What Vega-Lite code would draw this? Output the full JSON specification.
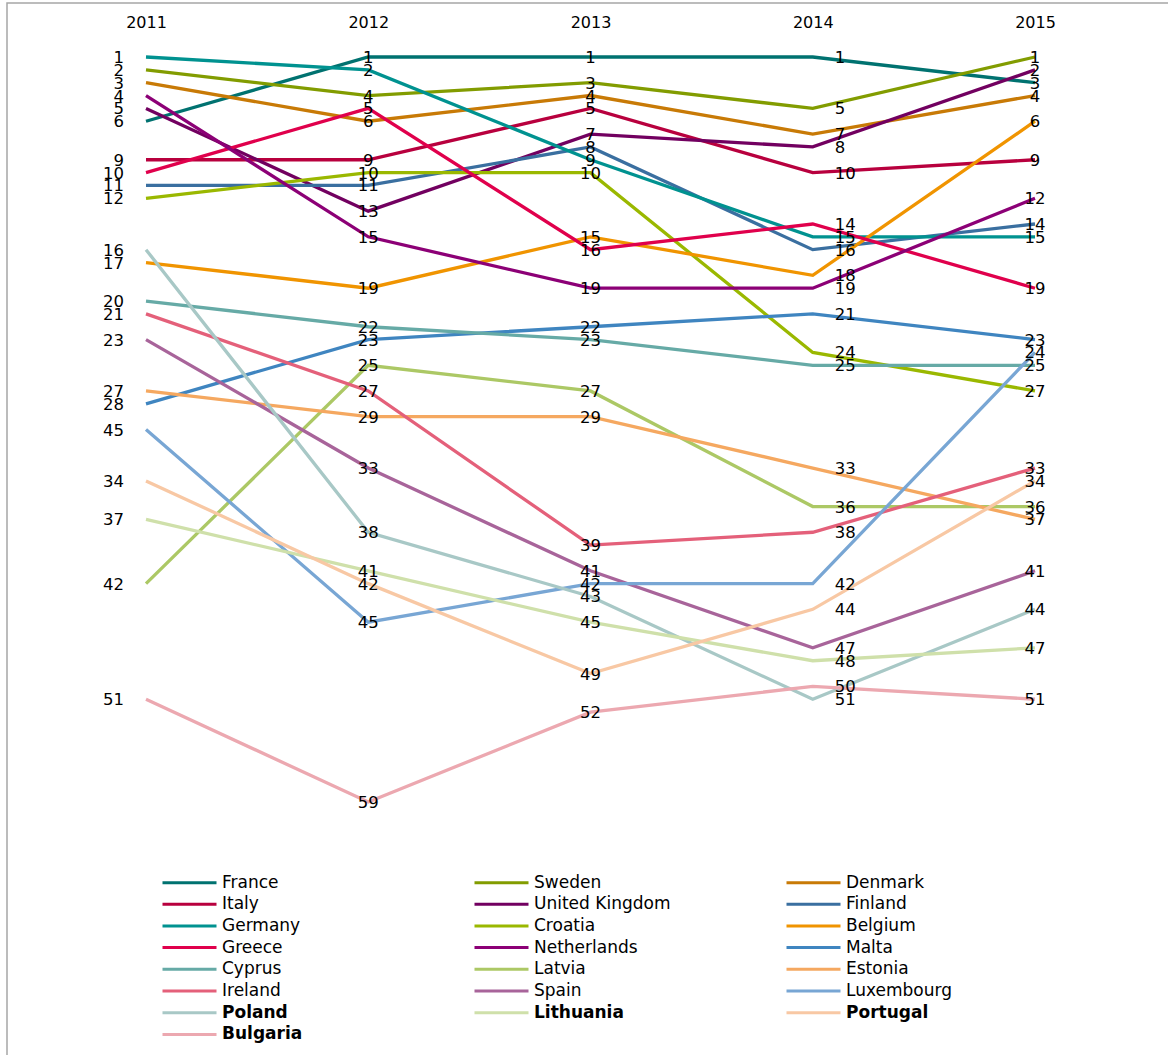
{
  "$schema": "https://vega.github.io/schema/vega-lite/v6.json",
  "width": 1170,
  "height": 1060,
  "autosize": {"type": "none"},
  "padding": {"left": 7, "top": 3, "right": 0, "bottom": 0},
  "background": "white",
  "config": {
    "view": {"stroke": "#a6a6a6", "strokeWidth": 1.5},
    "font": "DejaVu Sans"
  },
  "data": {
    "values": [
      {"country": "France", "year": 2011, "rank": 6, "label": 6},
      {"country": "France", "year": 2012, "rank": 1, "label": 1},
      {"country": "France", "year": 2013, "rank": 1, "label": 1},
      {"country": "France", "year": 2014, "rank": 1, "label": 1},
      {"country": "France", "year": 2015, "rank": 3, "label": 3},
      {"country": "Sweden", "year": 2011, "rank": 2, "label": 2},
      {"country": "Sweden", "year": 2012, "rank": 4, "label": 4},
      {"country": "Sweden", "year": 2013, "rank": 3, "label": 3},
      {"country": "Sweden", "year": 2014, "rank": 5, "label": 5},
      {"country": "Sweden", "year": 2015, "rank": 1, "label": 1},
      {"country": "Denmark", "year": 2011, "rank": 3, "label": 3},
      {"country": "Denmark", "year": 2012, "rank": 6, "label": 6},
      {"country": "Denmark", "year": 2013, "rank": 4, "label": 4},
      {"country": "Denmark", "year": 2014, "rank": 7, "label": 7},
      {"country": "Denmark", "year": 2015, "rank": 4, "label": 4},
      {"country": "Italy", "year": 2011, "rank": 9, "label": 9},
      {"country": "Italy", "year": 2012, "rank": 9, "label": 9},
      {"country": "Italy", "year": 2013, "rank": 5, "label": 5},
      {"country": "Italy", "year": 2014, "rank": 10, "label": 10},
      {"country": "Italy", "year": 2015, "rank": 9, "label": 9},
      {"country": "United Kingdom", "year": 2011, "rank": 5, "label": 5},
      {"country": "United Kingdom", "year": 2012, "rank": 13, "label": 13},
      {"country": "United Kingdom", "year": 2013, "rank": 7, "label": 7},
      {"country": "United Kingdom", "year": 2014, "rank": 8, "label": 8},
      {"country": "United Kingdom", "year": 2015, "rank": 2, "label": 2},
      {"country": "Finland", "year": 2011, "rank": 11, "label": 11},
      {"country": "Finland", "year": 2012, "rank": 11, "label": 11},
      {"country": "Finland", "year": 2013, "rank": 8, "label": 8},
      {"country": "Finland", "year": 2014, "rank": 16, "label": 16},
      {"country": "Finland", "year": 2015, "rank": 14, "label": 14},
      {"country": "Germany", "year": 2011, "rank": 1, "label": 1},
      {"country": "Germany", "year": 2012, "rank": 2, "label": 2},
      {"country": "Germany", "year": 2013, "rank": 9, "label": 9},
      {"country": "Germany", "year": 2014, "rank": 15, "label": 15},
      {"country": "Germany", "year": 2015, "rank": 15, "label": 15},
      {"country": "Croatia", "year": 2011, "rank": 12, "label": 12},
      {"country": "Croatia", "year": 2012, "rank": 10, "label": 10},
      {"country": "Croatia", "year": 2013, "rank": 10, "label": 10},
      {"country": "Croatia", "year": 2014, "rank": 24, "label": 24},
      {"country": "Croatia", "year": 2015, "rank": 27, "label": 27},
      {"country": "Belgium", "year": 2011, "rank": 17, "label": 17},
      {"country": "Belgium", "year": 2012, "rank": 19, "label": 19},
      {"country": "Belgium", "year": 2013, "rank": 15, "label": 15},
      {"country": "Belgium", "year": 2014, "rank": 18, "label": 18},
      {"country": "Belgium", "year": 2015, "rank": 6, "label": 6},
      {"country": "Greece", "year": 2011, "rank": 10, "label": 10},
      {"country": "Greece", "year": 2012, "rank": 5, "label": 5},
      {"country": "Greece", "year": 2013, "rank": 16, "label": 16},
      {"country": "Greece", "year": 2014, "rank": 14, "label": 14},
      {"country": "Greece", "year": 2015, "rank": 19, "label": 19},
      {"country": "Netherlands", "year": 2011, "rank": 4, "label": 4},
      {"country": "Netherlands", "year": 2012, "rank": 15, "label": 15},
      {"country": "Netherlands", "year": 2013, "rank": 19, "label": 19},
      {"country": "Netherlands", "year": 2014, "rank": 19, "label": 19},
      {"country": "Netherlands", "year": 2015, "rank": 12, "label": 12},
      {"country": "Malta", "year": 2011, "rank": 28, "label": 28},
      {"country": "Malta", "year": 2012, "rank": 23, "label": 23},
      {"country": "Malta", "year": 2013, "rank": 22, "label": 22},
      {"country": "Malta", "year": 2014, "rank": 21, "label": 21},
      {"country": "Malta", "year": 2015, "rank": 23, "label": 23},
      {"country": "Cyprus", "year": 2011, "rank": 20, "label": 20},
      {"country": "Cyprus", "year": 2012, "rank": 22, "label": 22},
      {"country": "Cyprus", "year": 2013, "rank": 23, "label": 23},
      {"country": "Cyprus", "year": 2014, "rank": 25, "label": 25},
      {"country": "Cyprus", "year": 2015, "rank": 25, "label": 25},
      {"country": "Latvia", "year": 2011, "rank": 42, "label": 42},
      {"country": "Latvia", "year": 2012, "rank": 25, "label": 25},
      {"country": "Latvia", "year": 2013, "rank": 27, "label": 27},
      {"country": "Latvia", "year": 2014, "rank": 36, "label": 36},
      {"country": "Latvia", "year": 2015, "rank": 36, "label": 36},
      {"country": "Estonia", "year": 2011, "rank": 27, "label": 27},
      {"country": "Estonia", "year": 2012, "rank": 29, "label": 29},
      {"country": "Estonia", "year": 2013, "rank": 29, "label": 29},
      {"country": "Estonia", "year": 2014, "rank": 33, "label": 33},
      {"country": "Estonia", "year": 2015, "rank": 37, "label": 37},
      {"country": "Ireland", "year": 2011, "rank": 21, "label": 21},
      {"country": "Ireland", "year": 2012, "rank": 27, "label": 27},
      {"country": "Ireland", "year": 2013, "rank": 39, "label": 39},
      {"country": "Ireland", "year": 2014, "rank": 38, "label": 38},
      {"country": "Ireland", "year": 2015, "rank": 33, "label": 33},
      {"country": "Spain", "year": 2011, "rank": 23, "label": 23},
      {"country": "Spain", "year": 2012, "rank": 33, "label": 33},
      {"country": "Spain", "year": 2013, "rank": 41, "label": 41},
      {"country": "Spain", "year": 2014, "rank": 47, "label": 47},
      {"country": "Spain", "year": 2015, "rank": 41, "label": 41},
      {"country": "Luxembourg", "year": 2011, "rank": 30, "label": 45},
      {"country": "Luxembourg", "year": 2012, "rank": 45, "label": 45},
      {"country": "Luxembourg", "year": 2013, "rank": 42, "label": 42},
      {"country": "Luxembourg", "year": 2014, "rank": 42, "label": 42},
      {"country": "Luxembourg", "year": 2015, "rank": 24, "label": 24},
      {"country": "Poland", "year": 2011, "rank": 16, "label": 16},
      {"country": "Poland", "year": 2012, "rank": 38, "label": 38},
      {"country": "Poland", "year": 2013, "rank": 43, "label": 43},
      {"country": "Poland", "year": 2014, "rank": 51, "label": 51},
      {"country": "Poland", "year": 2015, "rank": 44, "label": 44},
      {"country": "Lithuania", "year": 2011, "rank": 37, "label": 37},
      {"country": "Lithuania", "year": 2012, "rank": 41, "label": 41},
      {"country": "Lithuania", "year": 2013, "rank": 45, "label": 45},
      {"country": "Lithuania", "year": 2014, "rank": 48, "label": 48},
      {"country": "Lithuania", "year": 2015, "rank": 47, "label": 47},
      {"country": "Portugal", "year": 2011, "rank": 34, "label": 34},
      {"country": "Portugal", "year": 2012, "rank": 42, "label": 42},
      {"country": "Portugal", "year": 2013, "rank": 49, "label": 49},
      {"country": "Portugal", "year": 2014, "rank": 44, "label": 44},
      {"country": "Portugal", "year": 2015, "rank": 34, "label": 34},
      {"country": "Bulgaria", "year": 2011, "rank": 51, "label": 51},
      {"country": "Bulgaria", "year": 2012, "rank": 59, "label": 59},
      {"country": "Bulgaria", "year": 2013, "rank": 52, "label": 52},
      {"country": "Bulgaria", "year": 2014, "rank": 50, "label": 50},
      {"country": "Bulgaria", "year": 2015, "rank": 51, "label": 51}
    ]
  },
  "encoding": {
    "x": {
      "field": "year",
      "type": "quantitative",
      "scale": {"domain": [2010.37458, 2015.63892], "nice": false, "zero": false},
      "axis": {
        "orient": "top",
        "values": [2011, 2012, 2013, 2014, 2015],
        "format": "d",
        "title": null,
        "domain": false,
        "ticks": false,
        "tickSize": 0,
        "grid": false,
        "offset": -19,
        "labelPadding": 0,
        "labelBaseline": "middle",
        "labelFontSize": 16,
        "labelFont": "DejaVu Sans",
        "labelColor": "#000000",
        "labelFlush": false,
        "labelOverlap": false
      }
    },
    "y": {
      "field": "rank",
      "type": "quantitative",
      "scale": {"domain": [-3.204, 79.318], "reverse": true, "nice": false, "zero": false},
      "axis": null
    }
  },
  "layer": [
    {
      "mark": {"type": "line", "strokeWidth": 3.3},
      "encoding": {
        "color": {
          "field": "country",
          "type": "nominal",
          "sort": null,
          "scale": {
            "domain": ["France", "Sweden", "Denmark", "Italy", "United Kingdom", "Finland", "Germany", "Croatia", "Belgium", "Greece", "Netherlands", "Malta", "Cyprus", "Latvia", "Estonia", "Ireland", "Spain", "Luxembourg", "Poland", "Lithuania", "Portugal", "Bulgaria"],
            "range": ["#007270", "#829c00", "#c87a06", "#b8003e", "#720060", "#3a6fa0", "#009290", "#9ab800", "#f09400", "#e0004c", "#8c0076", "#3f85c0", "#66aaa6", "#acc865", "#f5a860", "#e4607a", "#a8649a", "#78a6d4", "#a8c8c6", "#cfe0aa", "#f8c8a4", "#eca8b0"]
          },
          "legend": {
            "orient": "none",
            "direction": "horizontal",
            "legendX": 172,
            "legendY": 869,
            "columns": 3,
            "title": null,
            "symbolType": "M-3,0H3",
            "symbolSize": 324,
            "symbolStrokeWidth": 3,
            "labelFontSize": 17,
            "labelFont": "DejaVu Sans",
            "labelColor": "#000000",
            "labelOffset": 22,
            "labelLimit": 400,
            "gridAlign": "all",
            "columnPadding": 109,
            "rowPadding": 2.7,
            "padding": 0,
            "encode": {
              "labels": {
                "update": {
                  "fontWeight": {"signal": "indexof(['Poland','Lithuania','Portugal','Bulgaria'], datum.label) >= 0 ? 'bold' : 'normal'"}
                }
              }
            }
          }
        }
      }
    },
    {
      "transform": [{"filter": "datum.year == 2011"}],
      "mark": {"type": "text", "align": "right", "baseline": "middle", "dx": -22, "dy": 1, "fontSize": 16.5, "font": "DejaVu Sans", "color": "#000000"},
      "encoding": {"text": {"field": "label"}}
    },
    {
      "transform": [{"filter": "datum.year == 2012 || datum.year == 2013 || datum.year == 2015"}],
      "mark": {"type": "text", "align": "center", "baseline": "middle", "dx": 0, "dy": 1, "fontSize": 16.5, "font": "DejaVu Sans", "color": "#000000"},
      "encoding": {"text": {"field": "label"}}
    },
    {
      "transform": [{"filter": "datum.year == 2014"}],
      "mark": {"type": "text", "align": "left", "baseline": "middle", "dx": 22, "dy": 1, "fontSize": 16.5, "font": "DejaVu Sans", "color": "#000000"},
      "encoding": {"text": {"field": "label"}}
    }
  ]
}
